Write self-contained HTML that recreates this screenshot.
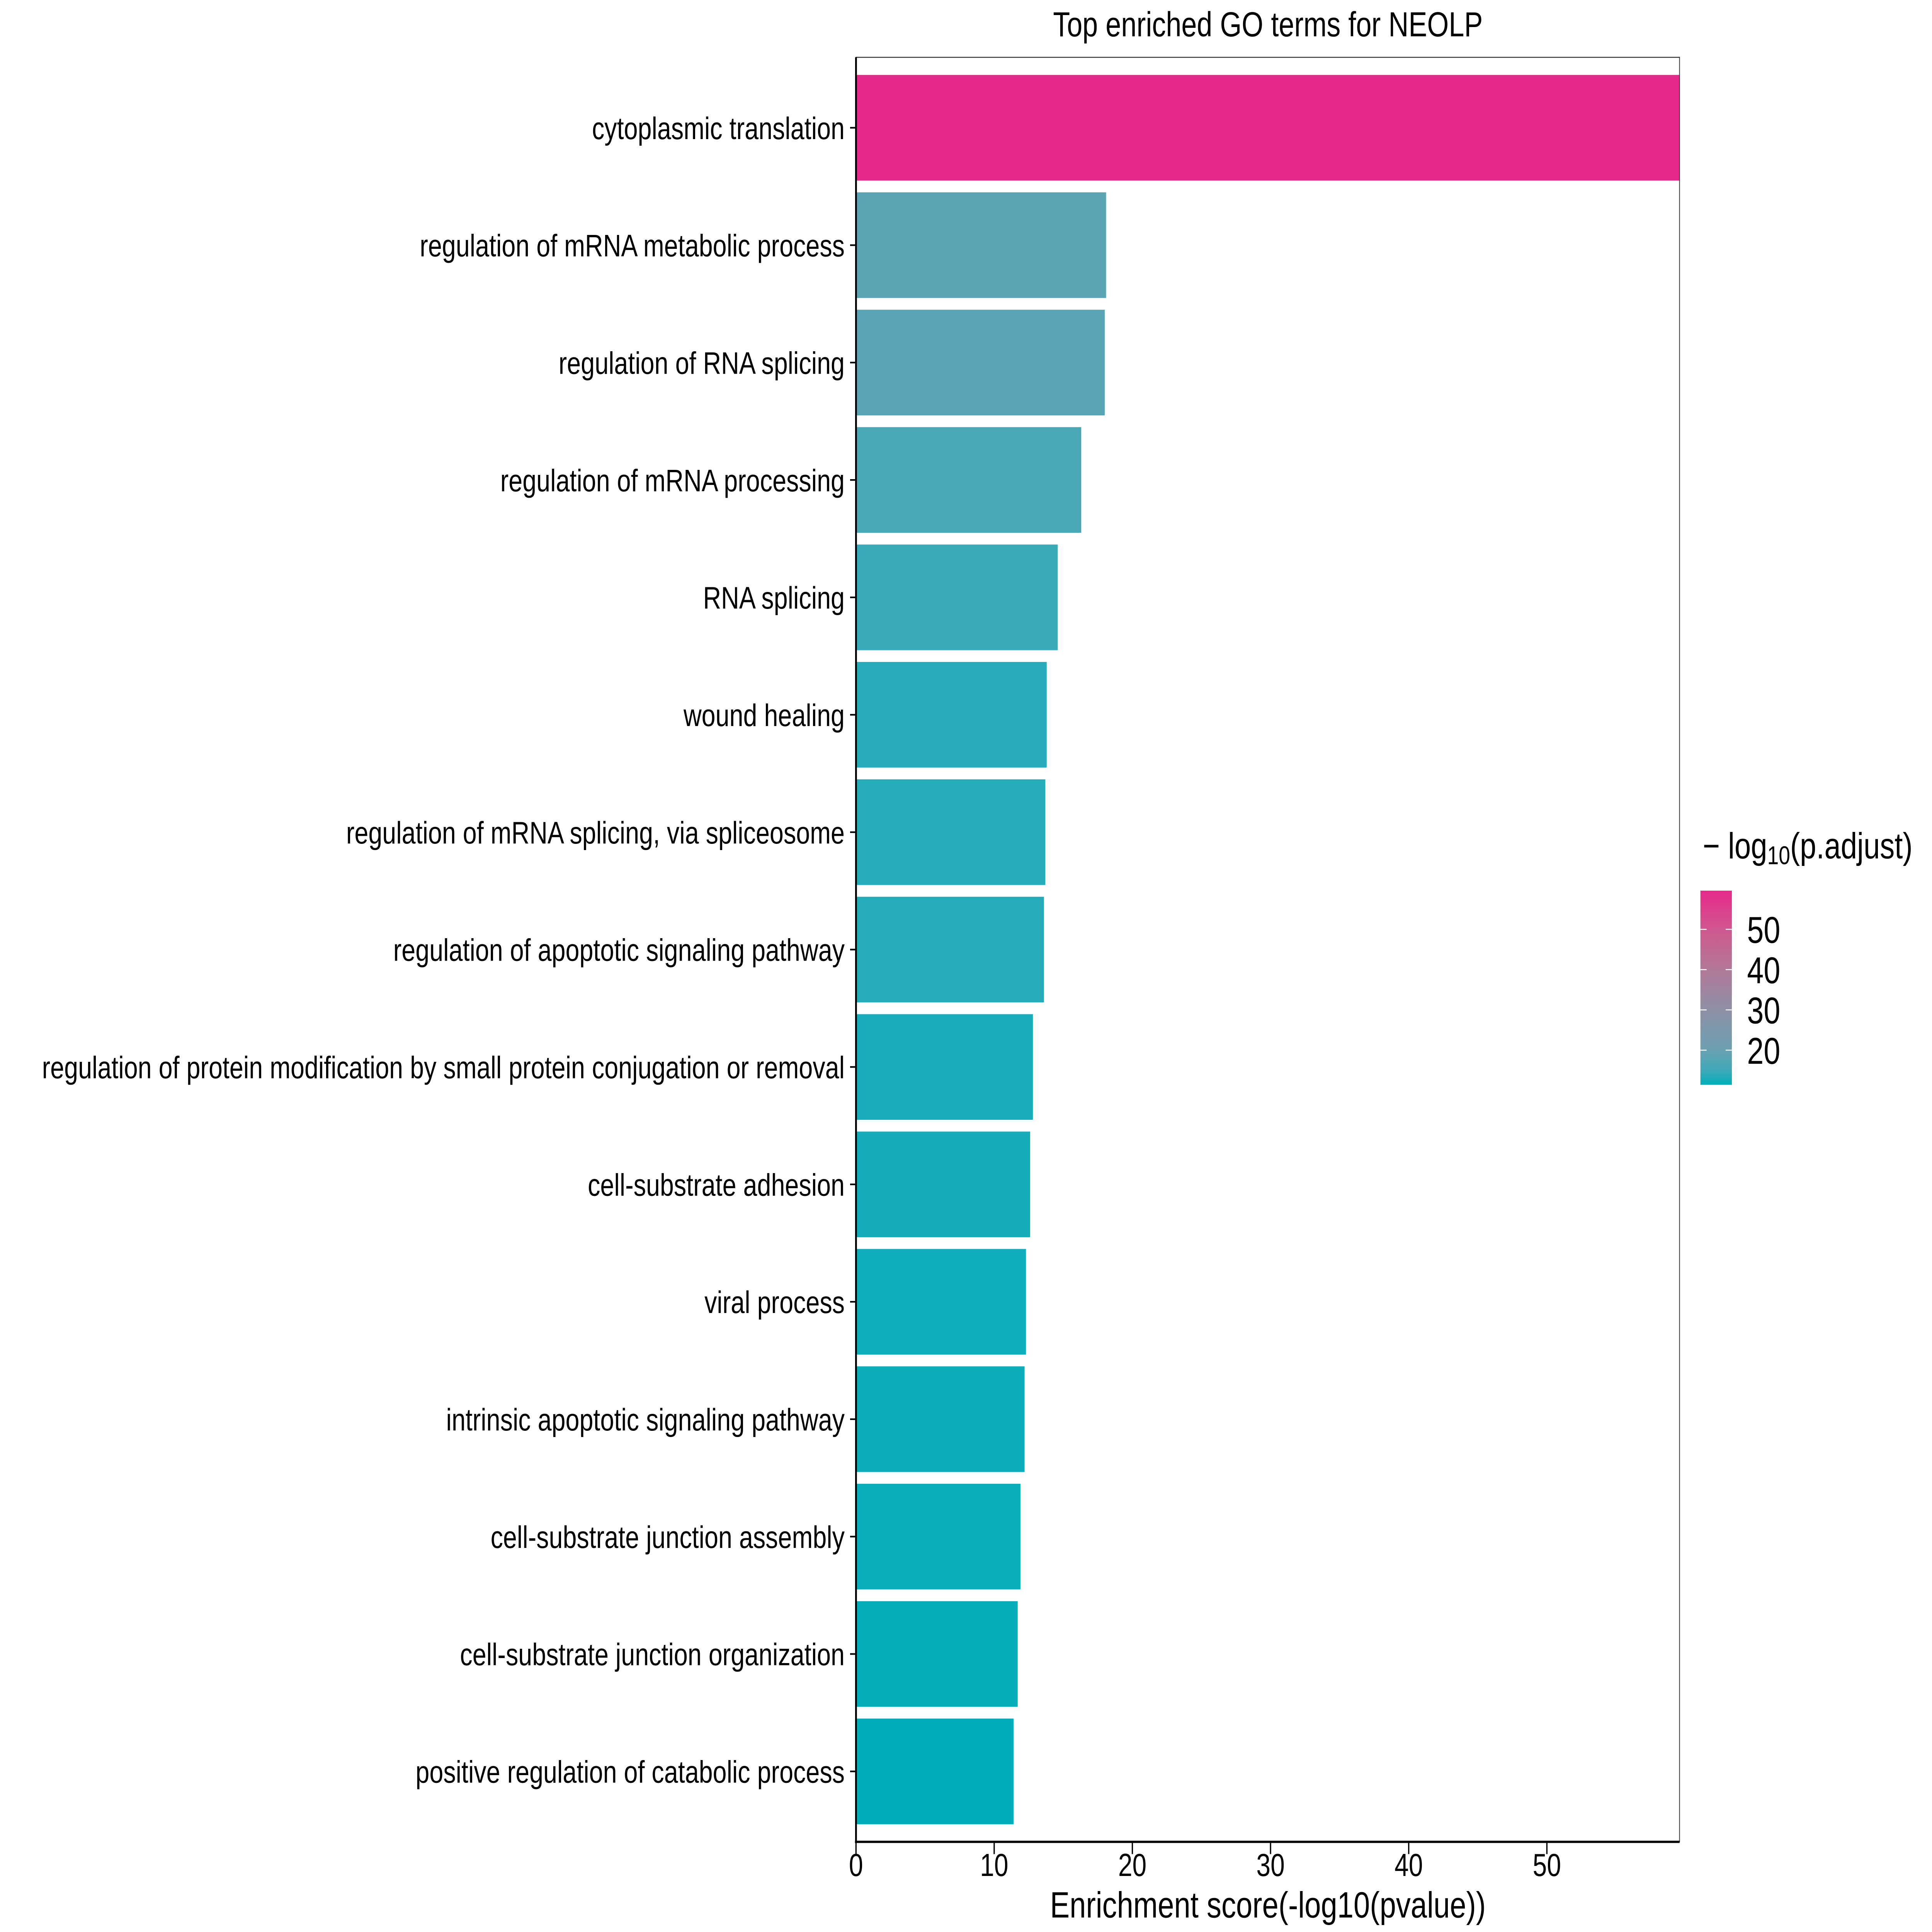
<!DOCTYPE html>
<html><head><meta charset="utf-8"><style>html,body{margin:0;padding:0;background:#fff;width:100%;height:100%;overflow:hidden}svg{display:block;width:100vw;height:100vh}</style></head>
<body>
<svg id="chart" viewBox="0 0 7500 6000" preserveAspectRatio="none" xmlns="http://www.w3.org/2000/svg" font-family="Liberation Sans, sans-serif">
<rect width="7500" height="6000" fill="#fff"/>
<text x="4922" y="113" font-size="108" text-anchor="middle">Top enriched GO terms for NEOLP</text>
<g id="bars"></g>
<g id="ylabels"></g>
<g id="xaxis"></g>
<text x="4922" y="5955" font-size="114" text-anchor="middle">Enrichment score(-log10(pvalue))</text>
<g>
<text x="6610" y="2666" font-size="114">− log<tspan font-size="80" dy="18">10</tspan><tspan dy="-18">(p.adjust)</tspan></text>
<defs><linearGradient id="cg" x1="0" y1="1" x2="0" y2="0"></linearGradient></defs>
<rect id="cbar" x="6601" y="2766" width="122" height="603" fill="url(#cg)"/>
<g id="cticks"></g>
</g>
</svg>
<script>
const categories = ["cytoplasmic translation","regulation of mRNA metabolic process","regulation of RNA splicing","regulation of mRNA processing","RNA splicing","wound healing","regulation of mRNA splicing, via spliceosome","regulation of apoptotic signaling pathway","regulation of protein modification by small protein conjugation or removal","cell-substrate adhesion","viral process","intrinsic apoptotic signaling pathway","cell-substrate junction assembly","cell-substrate junction organization","positive regulation of catabolic process"];
const scores = [59.6,18.1,18.0,16.3,14.6,13.8,13.7,13.6,12.8,12.6,12.3,12.2,11.9,11.7,11.4];
const padjust = [59.6,18.1,18.0,16.3,14.6,13.8,13.7,13.6,12.8,12.6,12.3,12.2,11.9,11.7,11.4];
const xTicks = [0,10,20,30,40,50];
const legendTicks = [20,30,40,50];
const colorStopVals = [11.4,15,20,30,40,50,59.6];
const colorStopCols = ["#00aebb","#3fa9b8","#6aa1b1","#8f8fa5","#b27899","#d0578f","#e7298a"];

const NS="http://www.w3.org/2000/svg";
const X0=3323, PX=53.64, XMAX=59.6, TOP=178, BOT=5720, RIGHT=X0+XMAX*PX;
const n=categories.length, pitch=(BOT-TOP)/(n-1+1.2);
const xs=v=>X0+v*PX, yc=i=>TOP+0.6*pitch+i*pitch;
const cmin=colorStopVals[0], cmax=colorStopVals[colorStopVals.length-1];
function hex(h){return [1,3,5].map(k=>parseInt(h.substr(k,2),16));}
function col(v){v=Math.max(cmin,Math.min(cmax,v));
 for(let k=0;k<colorStopVals.length-1;k++){if(v<=colorStopVals[k+1]){const t=(v-colorStopVals[k])/(colorStopVals[k+1]-colorStopVals[k]);const a=hex(colorStopCols[k]),b=hex(colorStopCols[k+1]);return "rgb("+a.map((c,j)=>Math.round(c+(b[j]-c)*t)).join(",")+")";}}return colorStopCols[colorStopCols.length-1];}
function mk(t,at,p){const e=document.createElementNS(NS,t);for(const k in at)e.setAttribute(k,at[k]);p.appendChild(e);return e;}
const bars=document.getElementById('bars'),yl=document.getElementById('ylabels'),xa=document.getElementById('xaxis');
categories.forEach((c,i)=>{
 const h=pitch*0.9;
 const r=mk('rect',{x:X0,y:yc(i)-h/2,width:Math.min(xs(scores[i]),RIGHT)-X0,height:h,fill:col(padjust[i])},bars);
 
 
 const t=mk('text',{x:3279,y:yc(i)+35,'font-size':97,'text-anchor':'end'},yl);t.textContent=c;
 
 
 const tk=mk('line',{x1:3300,x2:X0,y1:yc(i),y2:yc(i),stroke:'#000','stroke-width':5},yl);
 
 
});
const pb=mk('rect',{x:X0,y:TOP,width:RIGHT-X0,height:BOT-TOP,fill:'none',stroke:'#333','stroke-width':3},xa);


const al=mk('line',{x1:X0,x2:X0,y1:TOP,y2:BOT+4,stroke:'#000','stroke-width':7},xa);


const bl=mk('line',{x1:X0-4,x2:RIGHT,y1:BOT,y2:BOT,stroke:'#000','stroke-width':7},xa);


xTicks.forEach(v=>{
 const l=mk('line',{x1:xs(v),x2:xs(v),y1:BOT,y2:BOT+38,stroke:'#000','stroke-width':5},xa);
 
 
 const t=mk('text',{x:xs(v),y:5826,'font-size':99,'text-anchor':'middle'},xa);t.textContent=v;
 
 
});
const g=document.getElementById('cg');
colorStopVals.forEach((v,k)=>{mk('stop',{offset:(v-cmin)/(cmax-cmin),'stop-color':colorStopCols[k]},g);});
const CY0=2766,CY1=3369, cy=v=>CY1-(v-cmin)/(cmax-cmin)*(CY1-CY0);
const ct=document.getElementById('cticks');
legendTicks.forEach(v=>{
 mk('line',{x1:6601,x2:6625,y1:cy(v),y2:cy(v),stroke:'#fff','stroke-width':3},ct);
 mk('line',{x1:6699,x2:6723,y1:cy(v),y2:cy(v),stroke:'#fff','stroke-width':3},ct);
 const t=mk('text',{x:6782,y:cy(v)+42,'font-size':116},ct);t.textContent=v;
 
 
});
</script>
</body></html>
